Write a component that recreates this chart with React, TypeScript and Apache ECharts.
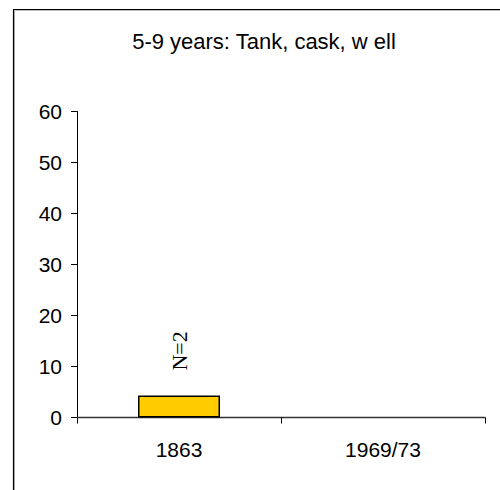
import React, { useEffect, useRef } from "react";
import * as echarts from "echarts";

const categories = ["1863", "1969/73"];
const values: (number | null)[] = [4.3, null];
const barLabels = ["N=2", ""];
const titleText = "5-9 years: Tank, cask, w ell";

export default function App() {
  const ref = useRef<HTMLDivElement>(null);
  useEffect(() => {
    document.body.style.margin = "0";
    const chart = echarts.init(ref.current!, null, { renderer: "svg" });
    chart.setOption({
      animation: false,
      backgroundColor: "#ffffff",
      title: {
        text: titleText,
        left: 259,
        textAlign: "center",
        top: 25,
        textStyle: { fontFamily: "Liberation Sans", fontSize: 22, fontWeight: "normal", color: "#000" },
      },
      graphic: [
        { type: "rect", shape: { x: 14.5, y: 10.5, width: 520, height: 520 }, style: { fill: "none", stroke: "#bbb", lineWidth: 1 }, silent: true },
        { type: "rect", shape: { x: 13.5, y: 9.5, width: 520, height: 520 }, style: { fill: "none", stroke: "#000", lineWidth: 1.2 }, silent: true },
      ],
      grid: { left: 77, right: 15, top: 111.5, bottom: 72.5, containLabel: false },
      xAxis: {
        type: "category",
        data: categories,
        axisLine: { show: true, lineStyle: { color: "#333", width: 1.3 } },
        axisTick: { show: true, inside: false, length: 6, lineStyle: { color: "#000" } },
        axisLabel: { fontFamily: "Liberation Sans", fontSize: 21, color: "#000", margin: 21 },
      },
      yAxis: {
        type: "value",
        min: 0,
        max: 60,
        interval: 10,
        splitLine: { show: false },
        axisLine: { show: true, lineStyle: { color: "#000", width: 1 } },
        axisTick: { show: true, inside: false, length: 6, lineStyle: { color: "#000" } },
        axisLabel: { fontFamily: "Liberation Sans", fontSize: 21, color: "#000", margin: 15 },
      },
      series: [
        {
          type: "bar",
          data: values,
          barWidth: 82,
          itemStyle: { color: "#FFCC00", borderColor: "#000", borderWidth: 1.5 },
          label: {
            show: true,
            position: "top",
            distance: 25,
            rotate: 90,
            align: "left",
            verticalAlign: "middle",
            fontFamily: "Liberation Serif",
            fontSize: 22,
            color: "#000",
            formatter: (p: any) => barLabels[p.dataIndex],
          },
        },
      ],
    });
    return () => chart.dispose();
  }, []);
  return <div ref={ref} style={{ width: 500, height: 490 }} />;
}
